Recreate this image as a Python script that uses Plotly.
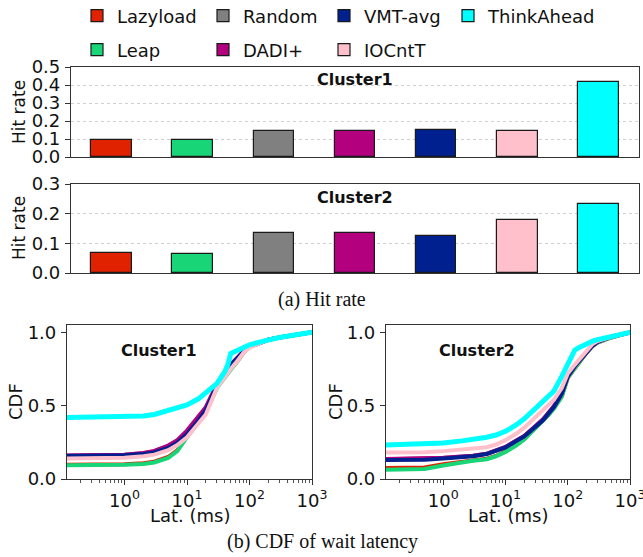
import plotly.graph_objects as go

W, H = 643, 557

# ---------------- data ----------------
methods = ["Lazyload", "Leap", "Random", "DADI+", "VMT-avg", "IOCntT", "ThinkAhead"]
colors = ["#e02200", "#18d677", "#808080", "#b3007f", "#00208f", "#ffc0cb", "#00ffff"]

hit_cluster1 = [0.095, 0.093, 0.145, 0.145, 0.150, 0.143, 0.415]
hit_cluster2 = [0.068, 0.065, 0.135, 0.135, 0.126, 0.177, 0.232]

lat_c1 = [0.12, 0.5, 1, 2, 3, 5, 7, 10, 15, 20, 30, 40, 45, 50, 60, 80, 100, 150, 200, 300, 500, 1000]
cdf_c1 = {
    "Lazyload":   [0.097, 0.098, 0.10, 0.107, 0.118, 0.15, 0.195, 0.29, 0.385, 0.46, 0.625, 0.70, 0.725, 0.75, 0.79, 0.86, 0.90, 0.93, 0.95, 0.965, 0.98, 1.0],
    "Leap":       [0.093, 0.094, 0.097, 0.103, 0.113, 0.143, 0.19, 0.285, 0.38, 0.455, 0.62, 0.695, 0.72, 0.745, 0.785, 0.86, 0.90, 0.93, 0.95, 0.965, 0.98, 1.0],
    "Random":     [0.16, 0.162, 0.166, 0.176, 0.19, 0.225, 0.262, 0.325, 0.415, 0.485, 0.64, 0.72, 0.75, 0.775, 0.81, 0.87, 0.90, 0.93, 0.95, 0.965, 0.98, 1.0],
    "DADI+":      [0.16, 0.162, 0.166, 0.177, 0.192, 0.228, 0.265, 0.33, 0.42, 0.49, 0.645, 0.725, 0.755, 0.78, 0.815, 0.87, 0.90, 0.93, 0.95, 0.965, 0.98, 1.0],
    "VMT-avg":    [0.157, 0.159, 0.162, 0.17, 0.181, 0.212, 0.247, 0.305, 0.395, 0.47, 0.635, 0.72, 0.75, 0.775, 0.81, 0.87, 0.90, 0.93, 0.95, 0.965, 0.98, 1.0],
    "IOCntT":     [0.14, 0.142, 0.145, 0.155, 0.166, 0.196, 0.232, 0.285, 0.37, 0.44, 0.62, 0.70, 0.725, 0.75, 0.79, 0.86, 0.895, 0.93, 0.95, 0.965, 0.98, 1.0],
    "ThinkAhead": [0.42, 0.421, 0.425, 0.43, 0.44, 0.465, 0.482, 0.505, 0.545, 0.585, 0.65, 0.73, 0.78, 0.855, 0.87, 0.90, 0.915, 0.935, 0.95, 0.965, 0.98, 1.0],
}

lat_c2 = [0.12, 0.5, 1, 2, 3, 5, 7, 10, 15, 20, 30, 40, 50, 60, 80, 100, 130, 150, 200, 250, 300, 500, 1000]
cdf_c2 = {
    "Lazyload":   [0.075, 0.078, 0.10, 0.12, 0.127, 0.138, 0.157, 0.188, 0.233, 0.273, 0.348, 0.393, 0.443, 0.483, 0.563, 0.69, 0.76, 0.79, 0.86, 0.905, 0.93, 0.965, 1.0],
    "Leap":       [0.063, 0.068, 0.092, 0.115, 0.124, 0.135, 0.155, 0.185, 0.23, 0.27, 0.345, 0.39, 0.44, 0.48, 0.56, 0.69, 0.76, 0.79, 0.86, 0.905, 0.93, 0.965, 1.0],
    "Random":     [0.135, 0.137, 0.144, 0.153, 0.158, 0.172, 0.192, 0.218, 0.262, 0.293, 0.358, 0.405, 0.455, 0.495, 0.585, 0.70, 0.77, 0.80, 0.87, 0.91, 0.935, 0.97, 1.0],
    "DADI+":      [0.136, 0.138, 0.145, 0.154, 0.159, 0.173, 0.193, 0.219, 0.263, 0.294, 0.36, 0.407, 0.457, 0.497, 0.587, 0.70, 0.77, 0.80, 0.87, 0.91, 0.935, 0.97, 1.0],
    "VMT-avg":    [0.13, 0.132, 0.14, 0.15, 0.155, 0.17, 0.19, 0.215, 0.26, 0.29, 0.355, 0.40, 0.45, 0.49, 0.58, 0.70, 0.77, 0.80, 0.87, 0.91, 0.935, 0.97, 1.0],
    "IOCntT":     [0.18, 0.182, 0.19, 0.20, 0.205, 0.217, 0.235, 0.265, 0.31, 0.35, 0.42, 0.47, 0.51, 0.54, 0.62, 0.72, 0.78, 0.81, 0.88, 0.92, 0.94, 0.97, 1.0],
    "ThinkAhead": [0.232, 0.235, 0.245, 0.26, 0.27, 0.285, 0.30, 0.325, 0.37, 0.41, 0.48, 0.53, 0.57, 0.60, 0.70, 0.79, 0.88, 0.895, 0.925, 0.94, 0.95, 0.97, 1.0],
}

# ---------------- helpers ----------------
def px(x):
    return x / W

def py(y):
    return 1 - y / H

FONT = "DejaVu Sans"
fig = go.Figure()

# legend layout: matplotlib-style 4 columns, column-major (pixel text start, row centre)
legend_pos = {
    "Lazyload": (123, 16), "Leap": (123, 50),
    "Random": (249, 16), "DADI+": (249, 50),
    "VMT-avg": (370, 16), "IOCntT": (370, 50),
    "ThinkAhead": (494, 16),
}

# ---------------- bar panels ----------------
for i, (m, c) in enumerate(zip(methods, colors)):
    lid = "legend" if i == 0 else f"legend{i + 1}"
    fig.add_trace(go.Bar(
        x=[i], y=[hit_cluster1[i]], width=0.5, name=m,
        marker=dict(color=c, line=dict(color="#1a1a1a", width=1.2)),
        xaxis="x", yaxis="y", showlegend=True, legend=lid,
    ))
    fig.add_trace(go.Bar(
        x=[i], y=[hit_cluster2[i]], width=0.5, name=m,
        marker=dict(color=c, line=dict(color="#1a1a1a", width=1.2)),
        xaxis="x2", yaxis="y2", showlegend=False,
    ))

# ---------------- CDF panels ----------------
for m, c in zip(methods, colors):
    lw = 5 if m == "ThinkAhead" else 4
    fig.add_trace(go.Scatter(x=lat_c1, y=cdf_c1[m], mode="lines", name=m,
                             line=dict(color=c, width=lw), xaxis="x3", yaxis="y3",
                             showlegend=False))
    fig.add_trace(go.Scatter(x=lat_c2, y=cdf_c2[m], mode="lines", name=m,
                             line=dict(color=c, width=lw), xaxis="x4", yaxis="y4",
                             showlegend=False))

tickfont = dict(family=FONT, size=18, color="#111")
box = dict(showline=True, linecolor="#333", linewidth=1.2, mirror=True)

bar_x = dict(domain=[px(71), px(639)], range=[-0.5, 6.5], showticklabels=False,
             ticks="", showgrid=False, zeroline=False, fixedrange=True, **box)
bar_y = dict(ticks="outside", ticklen=5, tickcolor="#333", tickfont=tickfont,
             tickformat=".1f", dtick=0.1, showgrid=True, gridcolor="#cfcfcf",
             griddash="dot", gridwidth=1, zeroline=False, ticklabelstandoff=1, **box)

log_minor = [k * 10 ** e for e in (-1, 0, 1, 2) for k in range(2, 10)]
cdf_x = dict(type="log", range=[-0.92, 3], tickvals=[1, 10, 100, 1000],
             ticktext=["10<sup>0</sup>", "10<sup>1</sup>", "10<sup>2</sup>", "10<sup>3</sup>"],
             ticks="outside", ticklen=5, tickcolor="#333", tickfont=tickfont,
             minor=dict(tickvals=log_minor, ticks="outside", ticklen=3, tickcolor="#555"),
             showgrid=False, zeroline=False, ticklabelstandoff=0,
             ticklabeloverflow="allow", **box)
cdf_y = dict(range=[0, 1.05], tickvals=[0, 0.5, 1.0], ticktext=["0.0", "0.5", "1.0"],
             ticks="outside", ticklen=5, tickcolor="#333", tickfont=tickfont,
             showgrid=False, zeroline=False, ticklabelstandoff=1, **box)

layout_legends = {}
for i, m in enumerate(methods):
    lid = "legend" if i == 0 else f"legend{i + 1}"
    tx, ty = legend_pos[m]
    layout_legends[lid] = dict(
        orientation="h", x=px(tx - 46), y=py(ty), xref="container", yref="container",
        xanchor="left", yanchor="middle",
        font=dict(family=FONT, size=18, color="#111"),
        itemwidth=30, bgcolor="rgba(0,0,0,0)", borderwidth=0,
    )

fig.update_layout(
    width=W, height=H, margin=dict(l=0, r=0, t=0, b=0, autoexpand=False),
    paper_bgcolor="white", plot_bgcolor="white",
    barmode="overlay", bargap=0,
    font=dict(family=FONT, size=18, color="#111"),
    xaxis=dict(anchor="y", **bar_x),
    yaxis=dict(domain=[py(157), py(67)], range=[0, 0.5], anchor="x", **bar_y),
    xaxis2=dict(anchor="y2", **bar_x),
    yaxis2=dict(domain=[py(273), py(184)], range=[0, 0.3], anchor="x2", **bar_y),
    xaxis3=dict(domain=[px(67), px(312)], anchor="y3", **cdf_x),
    yaxis3=dict(domain=[py(479), py(325)], anchor="x3", **cdf_y),
    xaxis4=dict(domain=[px(386), px(630)], anchor="y4", **cdf_x),
    yaxis4=dict(domain=[py(479), py(325)], anchor="x4", **cdf_y),
    showlegend=True,
    **layout_legends,
)

def ann(text, x, y, size=18, family=FONT, weight="normal", angle=0):
    fig.add_annotation(text=text, x=px(x), y=py(y), xref="paper", yref="paper",
                       showarrow=False, textangle=angle, xanchor="center", yanchor="middle",
                       font=dict(family=family, size=size, color="#111", weight=weight))

ann("Hit rate", 19, 112, size=17, angle=-90)
ann("Hit rate", 19, 228, size=17, angle=-90)
ann("Cluster1", 355, 80, size=16, weight="bold")
ann("Cluster2", 355, 197, size=16, weight="bold")
ann("(a) Hit rate", 322, 299, size=20, family="Liberation Serif")
ann("CDF", 15, 402, angle=-90)
ann("CDF", 335, 402, angle=-90)
ann("Cluster1", 159, 350, size=16, weight="bold")
ann("Cluster2", 477, 350, size=16, weight="bold")
ann("Lat. (ms)", 190, 515)
ann("Lat. (ms)", 508, 515)
ann("(b) CDF of wait latency", 322, 541, size=20, family="Liberation Serif")

fig.write_html("out.html", config={"displayModeBar": False},
               post_script="document.body.style.margin='0';document.body.style.overflow='hidden';")
